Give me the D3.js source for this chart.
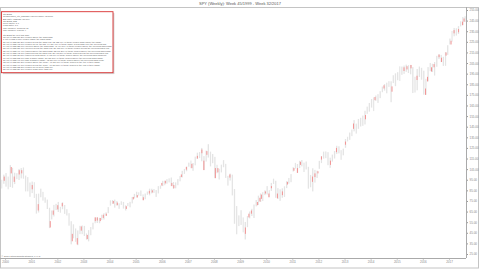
<!DOCTYPE html>
<html>
<head>
<meta charset="utf-8">
<script src="https://cdn.jsdelivr.net/npm/d3@7"></script>
<style>
html, body { margin: 0; padding: 0; background: #fff; }
svg { display: block; font-family: "Liberation Sans", Arial, sans-serif; }
</style>
</head>
<body>
<svg id="chart" width="480" height="270"></svg>
<script>
var title = 'SPY (Weekly): Week 45/1999 - Week 32/2017';
var footer = '\u00a9 2017 StockCharts Studies, L.L.C.';

// monthly high / low of the weekly bars (back-adjusted), Nov 1999 .. Aug 2017
var firstMonth = '1999-11-01';
var monthHigh = [
  95.0, 99.8,
  101.3, 98.0, 108.8, 106.2, 101.6, 101.2, 105.2, 106.0, 106.6, 98.9, 97.5, 92.4,
  93.3, 92.7, 81.7, 81.9, 86.6, 83.6, 78.4, 76.3, 68.6, 66.0, 71.3, 72.3,
  74.1, 69.5, 73.8, 71.2, 67.2, 63.5, 55.9, 53.0, 49.1, 47.2, 51.6, 51.9,
  51.5, 44.4, 47.5, 50.4, 54.5, 59.5, 59.5, 59.1, 62.0, 63.4, 64.3, 69.2,
  75.6, 75.9, 76.3, 75.0, 72.8, 74.7, 74.1, 70.9, 73.1, 74.2, 78.8, 81.7,
  83.7, 83.2, 84.9, 81.2, 82.0, 83.9, 86.6, 86.5, 86.3, 85.3, 89.0, 89.6,
  94.0, 94.2, 95.5, 96.3, 97.1, 92.9, 92.5, 95.6, 98.5, 103.4, 105.2, 107.6,
  111.1, 113.1, 110.8, 116.8, 120.5, 121.1, 125.0, 117.3, 122.5, 128.5, 121.5, 119.3,
  116.6, 109.1, 105.4, 109.2, 113.5, 110.0, 98.7, 100.8, 99.8, 86.2, 70.2, 61.4,
  66.3, 59.5, 55.2, 60.8, 65.0, 67.6, 71.6, 75.9, 80.0, 82.1, 83.3, 85.0,
  89.0, 85.2, 92.0, 96.0, 94.0, 87.1, 86.0, 86.9, 88.8, 93.6, 96.7, 100.3,
  106.8, 110.9, 109.8, 112.9, 113.6, 111.1, 112.2, 107.2, 99.5, 105.8, 104.3, 103.5,
  112.8, 117.3, 121.5, 121.7, 121.0, 115.8, 118.7, 122.1, 127.0, 126.5, 122.9, 124.3,
  133.4, 135.5, 139.5, 142.3, 151.2, 147.9, 152.3, 153.4, 155.5, 160.0, 163.9, 167.4,
  171.1, 172.7, 174.4, 175.7, 178.4, 182.8, 185.2, 186.5, 187.9, 187.8, 193.5, 195.3,
  196.4, 201.9, 201.7, 202.6, 203.5, 203.0, 203.2, 201.2, 192.1, 199.4, 201.7, 200.5,
  197.8, 190.2, 201.2, 205.1, 204.3, 206.0, 211.8, 213.3, 212.7, 210.9, 215.4, 221.8,
  228.1, 235.2, 238.1, 237.8, 239.8, 244.4, 248.4, 249.1
];
var monthLow = [
  86.7, 91.2,
  88.5, 86.0, 88.1, 87.4, 90.9, 95.5, 94.8, 96.3, 96.0, 84.0, 84.0, 78.9,
  82.4, 77.8, 63.1, 64.1, 78.5, 75.3, 73.3, 67.4, 49.4, 57.6, 60.4, 66.4,
  64.6, 63.9, 67.2, 62.8, 61.3, 51.7, 34.1, 39.8, 36.5, 33.3, 43.7, 43.7,
  42.0, 38.6, 36.9, 42.7, 48.2, 54.0, 54.2, 54.0, 57.0, 57.5, 61.1, 63.5,
  70.6, 72.2, 68.7, 70.7, 67.6, 71.3, 67.8, 66.0, 70.1, 69.0, 72.7, 77.4,
  78.3, 80.0, 79.6, 75.7, 76.6, 80.8, 80.3, 82.1, 82.6, 78.8, 82.1, 86.5,
  89.0, 89.8, 91.3, 92.5, 89.0, 86.4, 86.9, 89.8, 93.5, 97.2, 100.5, 103.0,
  107.3, 105.9, 103.4, 108.6, 114.6, 115.4, 112.4, 104.1, 112.1, 115.9, 107.6, 110.6,
  96.5, 101.1, 95.2, 101.9, 106.8, 96.7, 89.5, 94.2, 80.2, 53.5, 43.6, 51.3,
  52.4, 45.4, 38.7, 50.3, 58.6, 60.8, 58.9, 69.9, 71.2, 74.0, 74.9, 80.5,
  81.1, 78.5, 84.5, 91.0, 78.0, 76.9, 75.1, 78.0, 78.8, 87.1, 91.3, 92.7,
  102.7, 105.4, 101.4, 106.0, 107.6, 102.3, 104.7, 86.6, 87.9, 84.0, 92.3, 96.7,
  105.3, 110.7, 114.9, 115.3, 108.7, 106.2, 112.1, 115.0, 119.2, 119.8, 113.8, 118.0,
  125.1, 131.1, 132.6, 136.1, 140.6, 138.5, 143.0, 145.2, 145.8, 147.1, 157.1, 159.2,
  163.0, 159.7, 169.4, 167.4, 171.9, 177.5, 179.0, 176.5, 182.5, 168.1, 186.1, 183.2,
  188.8, 188.1, 193.9, 194.8, 196.7, 195.6, 194.4, 176.7, 177.2, 179.3, 191.9, 189.3,
  175.2, 175.0, 187.7, 197.3, 196.5, 193.2, 201.5, 208.7, 205.9, 202.3, 202.4, 212.7,
  222.5, 225.1, 230.2, 230.9, 232.4, 239.5, 240.7, 243.7
];

// weeks flagged as "ctrl bars" (drawn in red)
var ctrlWeeks = [
  '1999-12-20', '2000-03-27', '2000-05-08', '2000-07-17', '2000-08-21', '2001-01-15',
  '2001-04-09', '2001-09-24', '2001-11-05', '2002-01-07', '2002-03-11', '2002-07-29',
  '2002-10-07', '2002-12-02', '2003-02-24', '2003-06-16', '2003-07-14', '2003-08-25',
  '2003-10-06', '2003-11-17', '2004-02-23', '2004-04-19', '2004-08-23', '2004-11-29',
  '2005-01-24', '2005-04-18', '2005-07-11', '2005-08-22', '2006-01-02', '2006-02-20',
  '2006-05-22', '2006-06-19', '2006-10-02', '2006-12-11', '2007-02-26', '2007-05-14',
  '2007-07-16', '2007-08-13', '2007-09-24', '2008-01-21', '2008-02-25', '2008-08-11',
  '2009-03-16', '2009-05-04', '2009-06-08', '2009-08-31', '2009-10-05', '2009-10-26',
  '2009-12-21', '2010-02-08', '2010-03-15', '2010-06-07', '2010-08-16', '2010-10-25',
  '2011-01-24', '2011-03-14', '2011-04-25', '2011-10-10', '2011-11-14', '2011-12-26',
  '2012-02-13', '2012-06-18', '2012-09-10', '2013-01-14', '2013-05-06', '2013-10-21',
  '2014-03-03', '2014-07-07', '2014-10-27',
  '2015-04-13', '2015-05-25', '2015-07-20', '2015-10-12', '2016-02-08', '2016-03-07',
  '2016-05-02', '2016-06-06', '2016-08-15', '2016-09-19', '2016-11-21', '2017-01-30',
  '2017-03-13', '2017-05-15', '2017-07-10', '2017-07-31'
];
var ctrlHigh = [
  98, 107, 98, 104, 104, 90, 72, 56, 66, 71, 73, 44,
  40, 51, 43, 59.5, 59.5, 59, 62, 63, 75, 73.5, 70, 78.8,
  80.5, 78.5, 84.5, 85, 92, 94, 92, 90, 100, 107, 110, 117.5,
  123.5, 113, 122, 106, 106, 100, 50, 63, 66, 74, 78, 81,
  84, 82, 89, 82, 84, 93, 106, 106, 112, 98, 101, 103,
  117, 113, 125, 131, 148, 156, 173, 184, 183,
  201, 202, 203.2, 193, 181, 192, 201, 204, 213, 210, 215, 226,
  236, 237, 244, 247
];
var ctrlLow = [
  94, 101, 93, 100, 101, 86, 66, 50, 62, 67, 70, 37,
  34, 47, 39, 56, 56.5, 56, 59, 61, 72.5, 71, 67.5, 76.5,
  78.3, 75.7, 82, 83, 89.5, 91.5, 89, 87, 97.5, 104.5, 105.9, 115,
  120, 104.1, 118.5, 96.5, 102, 97, 44, 59.5, 63, 71, 74.5, 77,
  82, 78.5, 87, 77.5, 80.5, 90.5, 103.5, 101.5, 109, 93, 97.5, 101,
  114, 109, 121, 128, 143, 152, 170, 181, 178,
  197.5, 199, 200, 189, 175, 187.7, 197, 201, 210.5, 206, 212, 222.5,
  233, 234, 240.7, 244
];

var priceTicks = [255, 245, 235, 225, 215, 205, 195, 185, 175, 165, 155, 145,
  135, 125, 115, 105, 95, 85, 75, 65, 55, 45, 35, 25];
var yearTicks = [2000, 2001, 2002, 2003, 2004, 2005, 2006, 2007, 2008, 2009,
  2010, 2011, 2012, 2013, 2014, 2015, 2016, 2017];

var boxLines = [
  'Ctrl Bars',
  'Compressed_ctrl_bars/SPY/weekly/since 45/1999',
  'Bar Rate: 183/927 (19.7%)',
  'Ctrl Bars: 183',
  'Profit factor: 1.0',
  'Loss Ratio: 1.0',
  'Max Consec. Winners: 11',
  'Max Consec. Losers: 4',
  '',
  'Ctrl Bars the next bar had:',
  '68 out of 183 (37.2%) closed above the bar\'s high',
  '1 out of 183 (0.5%) closed inside the bar\'s range',
  '37 out of 183 (20.2%) closed below the bar\'s low, 12 (32.4%) of these closed back inside the range',
  '89 out of 183 (48.6%) closed up vs. the bar, 94 (51.4%) of these made a new high over the previous bar',
  '64 out of 183 (35.0%) opened above the bar\'s high, 41 (64.1%) of these closed above the previous bar\'s high',
  '58 out of 183 (31.7%) opened below the bar\'s low, 30 (51.7%) of these closed below the previous bar\'s low',
  '85 out of 183 (46.4%) traded above the bar\'s high, 52 (61.2%) of these closed above the previous bar\'s high',
  '80 out of 183 (43.7%) traded below the bar\'s low, 39 (48.8%) of these closed below the previous bar\'s low',
  '21 out of 183 (11.5%) traded on both sides, 9 (42.9%) of these closed above the previous bar\'s midpoint',
  '97 out of 183 (53.0%) had a larger range, 50 (51.5%) of these closed above the previous bar\'s range',
  '86 out of 183 (47.0%) had a smaller range, 43 (50.0%) of these closed above the previous bar\'s close',
  '92 out of 183 (50.3%) closed above the close, 47 (51.1%) of these closed in the top of their range',
  '91 out of 183 (49.7%) closed below the close, 46 (50.5%) of these closed in the low of their range',
  '60 out of 183 (32.8%) closed up for more than 1%',
  '55 out of 183 (30.1%) closed down more than 1%'
];

var svg = d3.select('#chart');
var parse = d3.timeParse('%Y-%m-%d');
var plot = { left: 1, right: 466, top: 7, bottom: 258 };

var x = d3.scaleTime()
  .domain([parse('1999-11-05'), parse('2017-08-16')])
  .range([1, 465.2]);
var y = d3.scaleLinear()
  .domain([255, 25])
  .range([10, 254]);

// outer frame and title
svg.append('rect')
  .attr('x', 0.5).attr('y', 7.5)
  .attr('width', 478).attr('height', 260.5)
  .attr('fill', 'none').attr('stroke', '#c4c4c4').attr('stroke-width', 1);

svg.append('text')
  .attr('x', 240).attr('y', 5)
  .attr('text-anchor', 'middle')
  .attr('font-size', 4)
  .attr('fill', '#555')
  .text(title);

svg.append('clipPath').attr('id', 'plotclip')
  .append('rect')
  .attr('x', plot.left).attr('y', plot.top)
  .attr('width', plot.right - plot.left).attr('height', plot.bottom - plot.top);

var bars = svg.append('g').attr('clip-path', 'url(#plotclip)');

// grey bars, one per month of weekly bars
var start = parse(firstMonth);
var months = monthHigh.map(function(h, i) {
  var d0 = d3.timeMonth.offset(start, i);
  return { d0: d0, d1: d3.timeMonth.offset(d0, 1), hi: h, lo: monthLow[i] };
});
bars.selectAll('.mbar')
  .data(months)
  .enter().append('rect')
  .attr('class', 'mbar')
  .attr('x', function(d) { return Math.max(x(d.d0), x.range()[0]) + 0.3; })
  .attr('width', function(d) { return Math.max(0.4, x(d.d1) - Math.max(x(d.d0), x.range()[0]) - 0.9); })
  .attr('y', function(d) { return y(d.hi); })
  .attr('height', function(d) { return y(d.lo) - y(d.hi); })
  .attr('fill', '#e4e4e4');

// red ctrl bars
var ctrl = ctrlWeeks.map(function(w, i) {
  return { d: parse(w), hi: ctrlHigh[i], lo: ctrlLow[i] };
});
bars.selectAll('.cbar')
  .data(ctrl)
  .enter().append('rect')
  .attr('class', 'cbar')
  .attr('x', function(d) { return x(d.d) - 0.5; })
  .attr('width', 1)
  .attr('y', function(d) { return y(d.hi); })
  .attr('height', function(d) { return y(d.lo) - y(d.hi); })
  .attr('fill', '#f29494');

// right price axis
var yAxis = svg.append('g')
  .attr('transform', 'translate(' + plot.right + ',0)')
  .call(d3.axisRight(y).tickValues(priceTicks).tickSize(2).tickSizeOuter(0)
    .tickFormat(d3.format('.2f')));
yAxis.select('.domain').remove();
yAxis.append('line')
  .attr('x1', 0.5).attr('x2', 0.5)
  .attr('y1', plot.top).attr('y2', plot.bottom)
  .attr('stroke', '#aaa');
yAxis.selectAll('.tick line').attr('stroke', '#999');
yAxis.selectAll('.tick text')
  .attr('x', 3.5)
  .attr('font-size', 3)
  .attr('font-family', '"Liberation Sans", Arial, sans-serif')
  .attr('fill', '#888');

// bottom year axis
var xAxis = svg.append('g')
  .attr('transform', 'translate(0,' + plot.bottom + ')')
  .call(d3.axisBottom(x)
    .tickValues(yearTicks.map(function(yr) { return new Date(yr, 0, 1); }))
    .tickSize(1.5).tickSizeOuter(0)
    .tickFormat(d3.timeFormat('%Y')));
xAxis.select('.domain').remove();
xAxis.append('line')
  .attr('x1', 0).attr('x2', plot.right)
  .attr('y1', 0.5).attr('y2', 0.5)
  .attr('stroke', '#aaa');
xAxis.selectAll('.tick line').attr('stroke', '#999');
xAxis.selectAll('.tick text')
  .attr('y', 3)
  .attr('font-size', 3)
  .attr('font-family', '"Liberation Sans", Arial, sans-serif')
  .attr('fill', '#888');

svg.append('text')
  .attr('x', 1.5).attr('y', 257)
  .attr('font-size', 2.5)
  .attr('fill', '#666')
  .text(footer);

// statistics box
var box = { x: 1.5, y: 11.7, w: 111.5, h: 61 };
svg.append('rect')
  .attr('x', box.x + 1.4).attr('y', box.y + 1.4)
  .attr('width', box.w).attr('height', box.h)
  .attr('fill', '#d4d4d4');
svg.append('rect')
  .attr('x', box.x).attr('y', box.y)
  .attr('width', box.w).attr('height', box.h)
  .attr('fill', '#fff').attr('stroke', '#d93030').attr('stroke-width', 0.9);

svg.append('g').selectAll('text')
  .data(boxLines)
  .enter().append('text')
  .attr('x', box.x + 1.5)
  .attr('y', function(d, i) { return box.y + 3.2 + i * 2.3; })
  .attr('font-size', 2.25)
  .attr('fill', '#555')
  .text(function(d) { return d; });
</script>
</body>
</html>
